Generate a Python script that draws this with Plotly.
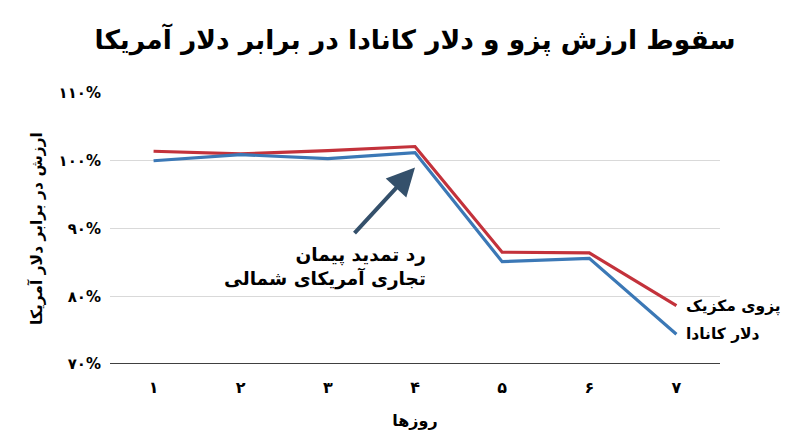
import plotly.graph_objects as go

# روزها
days = [1, 2, 3, 4, 5, 6, 7]
day_labels = ["۱", "۲", "۳", "۴", "۵", "۶", "۷"]

# ارزش در برابر دلار آمریکا (درصد)
peso = [101.4, 101.0, 101.5, 102.1, 86.5, 86.4, 78.6]
cad = [100.0, 100.9, 100.3, 101.2, 85.1, 85.6, 74.4]

y_ticks = [70, 80, 90, 100, 110]
y_tick_labels = ["۷۰%", "۸۰%", "۹۰%", "۱۰۰%", "۱۱۰%"]

FONT = "DejaVu Sans"
RED = "#c3323b"
BLUE = "#3b78b6"

fig = go.Figure()
fig.add_trace(go.Scatter(x=days, y=peso, mode="lines", name="پزوی مکزیک",
                         line=dict(color=RED, width=3.2)))
fig.add_trace(go.Scatter(x=days, y=cad, mode="lines", name="دلار کانادا",
                         line=dict(color=BLUE, width=3.2)))

# end labels
fig.add_annotation(x=days[-1], y=peso[-1], text="<b>پزوی مکزیک</b>", showarrow=False,
                   xanchor="left", xshift=8, yshift=-1, font=dict(size=15.5, color="black"))
fig.add_annotation(x=days[-1], y=cad[-1], text="<b>دلار کانادا</b>", showarrow=False,
                   xanchor="left", xshift=8, yshift=0, font=dict(size=15.5, color="black"))

# arrow to day 4
fig.add_annotation(x=4, y=99.0, ax=3.29, ay=89.1, axref="x", ayref="y",
                   text="", showarrow=True, arrowhead=2, arrowsize=1.4,
                   arrowwidth=4, arrowcolor="#34506b")
fig.add_annotation(x=4.15, y=84.3, text="<b>رد تمدید پیمان<br>تجاری آمریکای شمالی</b>",
                   showarrow=False, xanchor="right", align="right",
                   font=dict(size=18.5, color="black"))

fig.update_layout(
    width=800, height=447,
    margin=dict(l=102, r=88, t=85, b=91),
    paper_bgcolor="white", plot_bgcolor="white",
    showlegend=False,
    font=dict(family=FONT, color="black"),
    title=dict(text="<b>سقوط ارزش پزو و دلار کانادا در برابر دلار آمریکا</b>",
               x=0.5, xanchor="center", xref="paper", y=0.93, yanchor="middle",
               font=dict(size=26.5, color="black")),
)
fig.update_xaxes(range=[0.5, 7.5], tickvals=days, ticktext=["<b>%s</b>" % d for d in day_labels],
                 showgrid=False, zeroline=False, ticks="", ticklen=0, automargin=False,
                 tickfont=dict(size=16), ticklabelstandoff=12,
                 title=dict(text="<b>روزها</b>", font=dict(size=16), standoff=18))
fig.update_yaxes(range=[70, 110], tickvals=y_ticks, ticktext=["<b>%s</b>" % t for t in y_tick_labels],
                 showgrid=True, gridcolor="#d9d9d9", gridwidth=1, zeroline=False,
                 tickfont=dict(size=15), ticks="", ticklen=0, automargin=False,
                 ticklabelstandoff=8,
                 title=dict(text="<b>ارزش در برابر دلار آمریکا</b>", font=dict(size=15.5), standoff=12))
fig.add_shape(type="line", xref="paper", yref="y", x0=0, x1=1, y0=70, y1=70,
              line=dict(color="#404040", width=2))

fig.write_html("out.html")
